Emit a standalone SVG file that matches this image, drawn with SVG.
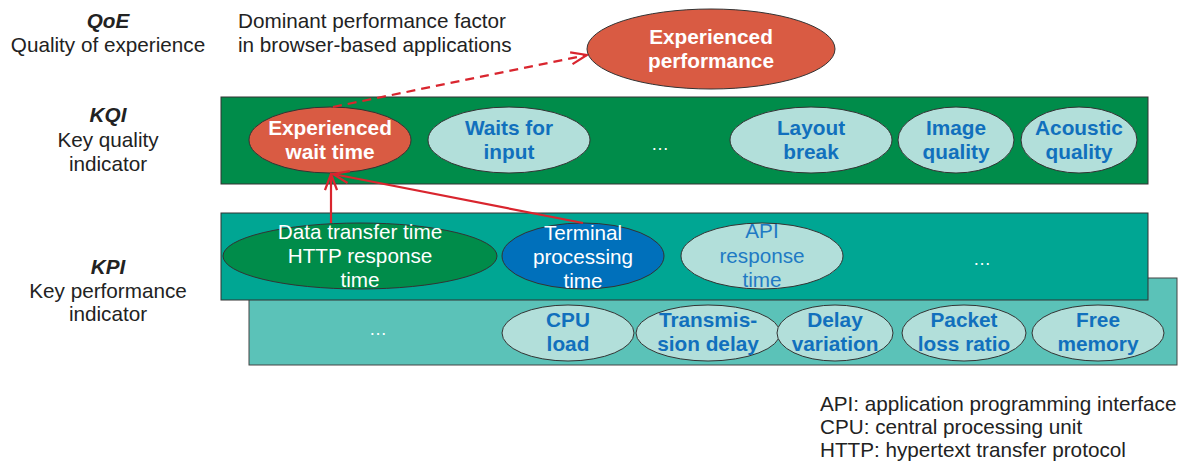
<svg xmlns="http://www.w3.org/2000/svg" width="1178" height="463" viewBox="0 0 1178 463">
<defs>
<style>
.t{font-family:"Liberation Sans",Arial,sans-serif;font-size:20.7px;fill:#222}
.lbl{font-family:"Liberation Sans",Arial,sans-serif;font-size:20.7px;fill:#222;text-anchor:middle}
.bi{font-weight:bold;font-style:italic}
.bw{font-family:"Liberation Sans",Arial,sans-serif;font-size:20.8px;font-weight:bold;fill:#fff;text-anchor:middle}
.bb{font-family:"Liberation Sans",Arial,sans-serif;font-size:20.8px;font-weight:bold;fill:#1170BD;text-anchor:middle}
.rw{font-family:"Liberation Sans",Arial,sans-serif;font-size:20.7px;fill:#fff;text-anchor:middle}
.rb{font-family:"Liberation Sans",Arial,sans-serif;font-size:20.7px;fill:#1F7AC4;text-anchor:middle}
.dots{font-family:"Liberation Sans",Arial,sans-serif;font-size:18px;fill:#fff;text-anchor:middle}
.el{stroke:#333;stroke-width:1}
.light{fill:#B2DFDA}
.red{fill:#D95B43}
.conn{stroke:#D9252E;stroke-width:2.2;fill:none}
</style>
<marker id="arr" viewBox="0 0 18 14" refX="17" refY="7" markerWidth="18" markerHeight="14" markerUnits="userSpaceOnUse" orient="auto">
<path d="M1,1 L17,7 L1,13" fill="none" stroke="#D9252E" stroke-width="2.2"/>
</marker>
</defs>

<g id="labels">
<text class="lbl bi" x="108" y="28">QoE</text>
<text class="lbl" x="108" y="52">Quality of experience</text>
<text class="t" x="238" y="28">Dominant performance factor</text>
<text class="t" x="238" y="52">in browser-based applications</text>
<text class="lbl bi" x="108" y="122">KQI</text>
<text class="lbl" x="108" y="147">Key quality</text>
<text class="lbl" x="108" y="171">indicator</text>
<text class="lbl bi" x="108" y="274">KPI</text>
<text class="lbl" x="108" y="298">Key performance</text>
<text class="lbl" x="108" y="321">indicator</text>
</g>

<g id="layer-back">
<rect x="249" y="278" width="928" height="87" fill="#5BC2B8" stroke="#444" stroke-width="1"/>
<text class="dots" x="378" y="335">…</text>
</g>
<g id="layer-kpi">
<rect x="221" y="213" width="927" height="87" fill="#00A693" stroke="#333" stroke-width="1"/>
<text class="dots" x="982" y="265">…</text>
</g>
<g id="layer-kqi">
<rect x="221" y="97" width="927" height="87" fill="#008C4A" stroke="#333" stroke-width="1"/>
<text class="dots" x="660" y="150">…</text>
</g>

<g id="experienced-performance">
<ellipse class="el red" cx="711" cy="49" rx="124" ry="40"/>
<text class="bw" x="711" y="44">Experienced</text>
<text class="bw" x="711" y="68">performance</text>
</g>

<g id="experienced-wait-time">
<ellipse class="el red" cx="330" cy="140" rx="81" ry="33"/>
<text class="bw" x="330" y="135">Experienced</text>
<text class="bw" x="330" y="159">wait time</text>
</g>
<g id="waits-for-input">
<ellipse class="el light" cx="509" cy="140" rx="81" ry="33"/>
<text class="bb" x="509" y="135">Waits for</text>
<text class="bb" x="509" y="159">input</text>
</g>
<g id="layout-break">
<ellipse class="el light" cx="811" cy="140" rx="81" ry="33"/>
<text class="bb" x="811" y="135">Layout</text>
<text class="bb" x="811" y="159">break</text>
</g>
<g id="image-quality">
<ellipse class="el light" cx="956" cy="140" rx="58" ry="33"/>
<text class="bb" x="956" y="135">Image</text>
<text class="bb" x="956" y="159">quality</text>
</g>
<g id="acoustic-quality">
<ellipse class="el light" cx="1079" cy="140" rx="58" ry="33"/>
<text class="bb" x="1079" y="135">Acoustic</text>
<text class="bb" x="1079" y="159">quality</text>
</g>

<g id="data-transfer-time">
<ellipse class="el" fill="#008C4A" cx="360" cy="256" rx="137" ry="33"/>
<text class="rw" x="360" y="239">Data transfer time</text>
<text class="rw" x="360" y="263">HTTP response</text>
<text class="rw" x="360" y="287">time</text>
</g>
<g id="terminal-processing-time">
<ellipse class="el" fill="#0070BB" cx="583" cy="256" rx="81" ry="33"/>
<text class="rw" x="583" y="240">Terminal</text>
<text class="rw" x="583" y="264">processing</text>
<text class="rw" x="583" y="288">time</text>
</g>
<g id="api-response-time">
<ellipse class="el light" cx="762" cy="256" rx="81" ry="33"/>
<text class="rb" x="762" y="238">API</text>
<text class="rb" x="762" y="263">response</text>
<text class="rb" x="762" y="287">time</text>
</g>

<g id="cpu-load">
<ellipse class="el light" cx="568" cy="333" rx="66" ry="28"/>
<text class="bb" x="568" y="327">CPU</text>
<text class="bb" x="568" y="351">load</text>
</g>
<g id="transmission-delay">
<ellipse class="el light" cx="708" cy="333" rx="72" ry="28"/>
<text class="bb" x="708" y="327">Transmis-</text>
<text class="bb" x="708" y="351">sion delay</text>
</g>
<g id="delay-variation">
<ellipse class="el light" cx="835" cy="333" rx="58" ry="28"/>
<text class="bb" x="835" y="327">Delay</text>
<text class="bb" x="835" y="351">variation</text>
</g>
<g id="packet-loss-ratio">
<ellipse class="el light" cx="964" cy="333" rx="62" ry="28"/>
<text class="bb" x="964" y="327">Packet</text>
<text class="bb" x="964" y="351">loss ratio</text>
</g>
<g id="free-memory">
<ellipse class="el light" cx="1098" cy="333" rx="66" ry="28"/>
<text class="bb" x="1098" y="327">Free</text>
<text class="bb" x="1098" y="351">memory</text>
</g>

<g id="connectors">
<path class="conn" d="M333,107 L587,55" stroke-dasharray="9,6" marker-end="url(#arr)"/>
<path class="conn" d="M331,223 L331,174" marker-end="url(#arr)"/>
<path class="conn" d="M583,223 L333,174" marker-end="url(#arr)"/>
</g>

<g id="legend">
<text class="t" x="820" y="411">API: application programming interface</text>
<text class="t" x="820" y="434">CPU: central processing unit</text>
<text class="t" x="820" y="457">HTTP: hypertext transfer protocol</text>
</g>
</svg>
